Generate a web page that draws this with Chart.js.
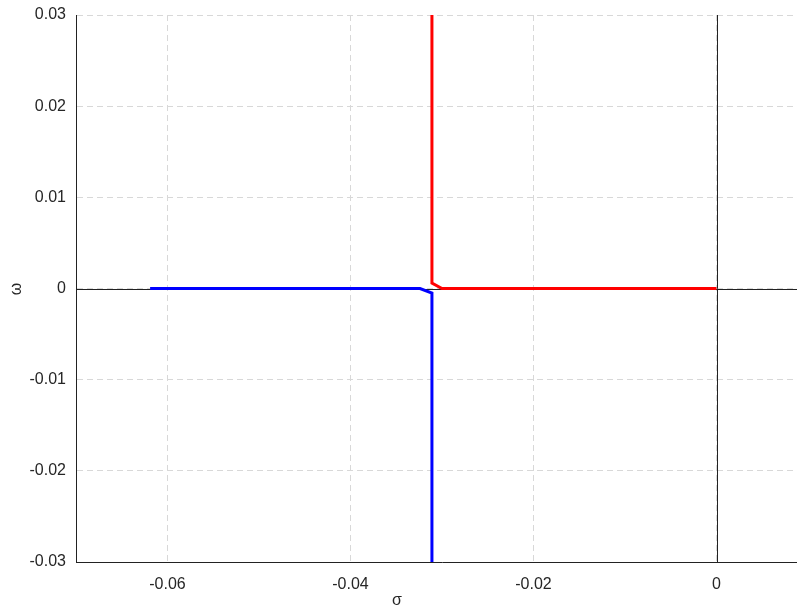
<!DOCTYPE html>
<html>
<head>
<meta charset="utf-8">
<script src="https://cdn.jsdelivr.net/npm/chart.js@4.4.1/dist/chart.umd.min.js"></script>
<style>
  html, body { margin: 0; padding: 0; background: #fff; overflow: hidden; }
  #wrap { width: 812px; height: 608px; }
</style>
</head>
<body>
<div id="wrap"><canvas id="chart"></canvas></div>
<script>
// Root locus branches (sigma, omega)
const redSigma = [0, -0.0300, -0.0311, -0.0311];
const redOmega = [0, 0, 0.0006, 0.03];
const blueSigma = [-0.0619, -0.0324, -0.0311, -0.0311];
const blueOmega = [0, 0, -0.0005, -0.03];

const xTicks = [-0.06, -0.04, -0.02, 0];
const yTicks = [-0.03, -0.02, -0.01, 0, 0.01, 0.02, 0.03];

function toPoints(xs, ys) {
    return xs.map((x, i) => ({ x: x, y: ys[i] }));
}

function tickText(value) {
    return Math.abs(value) < 1e-9 ? '0' : value.toFixed(2);
}

// Zero lines and axis titles
const extras = {
    id: 'extras',
    beforeDatasetsDraw(chart) {
        const c = chart.ctx;
        const a = chart.chartArea;
        const x0 = chart.scales.x.getPixelForValue(0);
        const y0 = chart.scales.y.getPixelForValue(0);
        c.save();
        c.strokeStyle = '#222';
        c.lineWidth = 1;
        c.beginPath();
        c.moveTo(Math.round(x0) + 0.5, a.top);
        c.lineTo(Math.round(x0) + 0.5, a.bottom);
        c.moveTo(a.left, Math.round(y0) + 0.5);
        c.lineTo(a.right, Math.round(y0) + 0.5);
        c.stroke();
        c.restore();
    },
    afterDraw(chart) {
        const c = chart.ctx;
        c.save();
        c.fillStyle = '#262626';
        c.font = '16px "Liberation Sans", Arial, sans-serif';
        c.textAlign = 'center';
        c.textBaseline = 'middle';
        c.fillText('σ', 397, 601);
        c.translate(17, 289);
        c.rotate(-Math.PI / 2);
        c.fillText('ω', 0, 0);
        c.restore();
    }
};

new Chart(document.getElementById('chart').getContext('2d'), {
    type: 'scatter',
    data: {
        datasets: [
            {
                data: toPoints(redSigma, redOmega),
                showLine: true,
                borderColor: '#ff0000',
                borderWidth: 3,
                pointRadius: 0,
                tension: 0
            },
            {
                data: toPoints(blueSigma, blueOmega),
                showLine: true,
                borderColor: '#0000ff',
                borderWidth: 3,
                pointRadius: 0,
                tension: 0
            }
        ]
    },
    options: {
        responsive: true,
        maintainAspectRatio: false,
        animation: false,
        layout: { padding: { top: 15, right: 4, left: 0, bottom: 0 } },
        plugins: {
            legend: { display: false },
            tooltip: { enabled: false }
        },
        scales: {
            x: {
                type: 'linear',
                min: -0.07,
                max: 0.01,
                afterBuildTicks: function(scale) {
                    scale.ticks = xTicks.map(v => ({ value: v }));
                },
                afterFit: function(scale) {
                    scale.height = 46;
                    scale.paddingLeft = 0;
                    scale.paddingRight = 0;
                },
                grid: {
                    color: '#d8d8d8',
                    drawTicks: false
                },
                border: { color: '#222', dash: [6, 4] },
                ticks: {
                    color: '#262626',
                    padding: 13,
                    font: { family: '"Liberation Sans", Arial, sans-serif', size: 16 },
                    callback: tickText
                }
            },
            y: {
                type: 'linear',
                min: -0.03,
                max: 0.03,
                afterBuildTicks: function(scale) {
                    scale.ticks = yTicks.map(v => ({ value: v }));
                },
                afterFit: function(scale) {
                    scale.width = 76;
                    scale.paddingTop = 0;
                    scale.paddingBottom = 0;
                },
                grid: {
                    color: '#d8d8d8',
                    drawTicks: false
                },
                border: { color: '#222', dash: [6, 4] },
                ticks: {
                    color: '#262626',
                    padding: 10,
                    font: { family: '"Liberation Sans", Arial, sans-serif', size: 16 },
                    callback: tickText
                }
            }
        }
    },
    plugins: [extras]
});
</script>
</body>
</html>
